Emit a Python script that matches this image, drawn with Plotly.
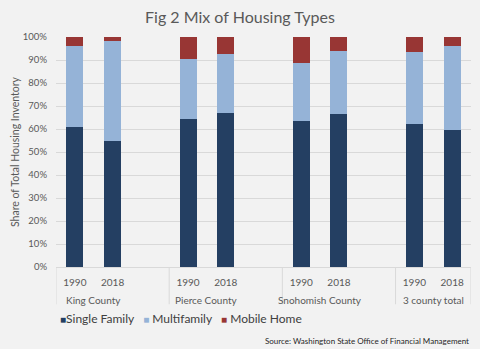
import plotly.graph_objects as go

groups = ["King County", "Pierce County", "Snohomish County", "3 county total"]
years = ["1990", "2018"]
single_family = [60.7, 54.6, 64.5, 67.1, 63.6, 66.4, 62.2, 59.7]
multifamily = [35.5, 43.7, 26.1, 25.4, 25.2, 27.4, 31.4, 36.4]
mobile_home = [3.8, 1.7, 9.4, 7.5, 11.2, 6.2, 6.4, 3.9]
series_names = ["Single Family", "Multifamily", "Mobile Home"]
series_colors = ["#243F62", "#95B3D7", "#983634"]

# position: each group takes 3 slots (2 years + spacer)
xpos = [g * 3 + i for g in range(len(groups)) for i in range(len(years))]
ticktext = [y for g in groups for y in years]

fig = go.Figure()
for name, vals, col in zip(series_names, [single_family, multifamily, mobile_home], series_colors):
    fig.add_trace(go.Bar(x=xpos, y=vals, name=name, marker=dict(color=col, line=dict(width=0)),
                         width=0.45, hoverinfo="skip", showlegend=False))

gray = "#595959"
shapes = []
nslots = len(groups) * 3 - 1
for b in [-0.5] + [g * 3 + 2.5 for g in range(len(groups) - 1)] + [nslots - 0.5]:
    shapes.append(dict(type="line", xref="x", yref="paper", x0=b, x1=b, y0=0, y1=-0.162,
                       line=dict(color="#d9d9d9", width=1)))

annotations = []
for g, name in enumerate(groups):
    annotations.append(dict(text=name, x=g * 3 + 0.5, xref="x", y=-0.143, yref="paper",
                            showarrow=False, font=dict(size=10, color=gray), yanchor="middle"))
annotations.append(dict(text="Source: Washington State Office of Financial Management",
                        x=1.0, xref="paper", xanchor="right", y=-0.32, yref="paper",
                        showarrow=False, font=dict(size=8, color="#262626"), yanchor="middle"))

legend_text = "&nbsp;&nbsp;&nbsp;".join(
    f"<span style='color:{c};font-size:10px'>■</span>{'' if i == 0 else ' '}{n}"
    for i, (n, c) in enumerate(zip(series_names, series_colors)))
annotations.append(dict(text=legend_text, x=0.005, xref="paper", xanchor="left", y=-0.222,
                        yref="paper", yanchor="middle", showarrow=False,
                        font=dict(size=12, color="#404040")))

fig.update_layout(
    width=480, height=349,
    barmode="stack",
    paper_bgcolor="#f2f2f2", plot_bgcolor="#f2f2f2",
    margin=dict(l=56, r=9, t=37, b=82),
    font=dict(family="Lato, Open Sans, sans-serif", color=gray),
    title=dict(text="Fig 2 Mix of Housing Types", x=0.5, xanchor="center", y=0.95, yanchor="middle",
               font=dict(size=16, color=gray)),
    annotations=annotations,
    shapes=shapes,
    xaxis=dict(range=[-0.5, nslots - 0.5], tickvals=xpos, ticktext=ticktext,
               tickfont=dict(size=10, color=gray), showgrid=False, zeroline=False,
               showline=True, linecolor="#d9d9d9", linewidth=1, ticks="", fixedrange=True,
               ticklabelstandoff=6),
    yaxis=dict(range=[0, 100], dtick=10, ticksuffix="%", tickfont=dict(size=9.5, color=gray),
               gridcolor="#d9d9d9", gridwidth=1, zeroline=False, showline=False,
               ticklabelstandoff=8,
               title=dict(text="Share of Total Housing Inventory", font=dict(size=10.5, color=gray), standoff=1),
               fixedrange=True),
    showlegend=False,
)
fig.write_html("out.html")
